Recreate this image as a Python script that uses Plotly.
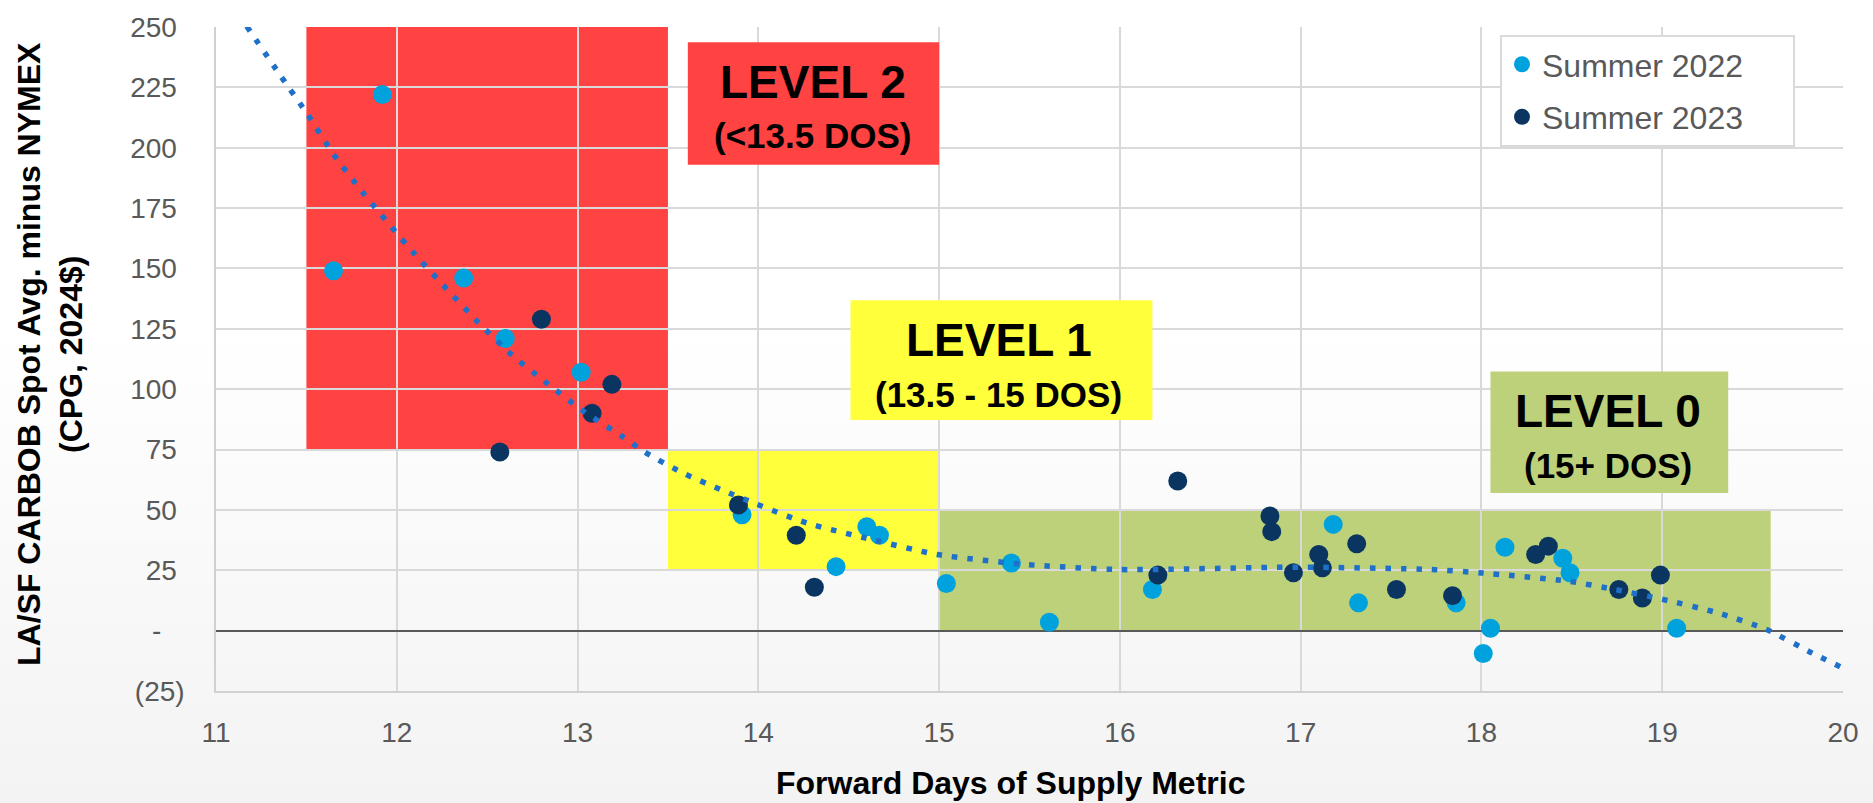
import plotly.graph_objects as go

# ---------------- data ----------------
s22_x = [11.65, 11.92, 12.37, 12.60, 13.02, 13.91, 14.43, 14.60, 14.67, 15.04, 15.40, 15.61,
         16.18, 17.18, 17.32, 17.86, 18.01, 18.05, 18.13, 18.45, 18.49, 19.08]
s22_y = [149, 222, 146, 121, 107, 48, 26.5, 43, 39.5, 19.5, 28, 3.5,
         17, 44, 11.5, 11.5, -9.5, 1, 34.5, 30, 24, 1]

s23_x = [12.57, 12.80, 13.08, 13.19, 13.89, 14.21, 14.31, 16.21, 16.32, 16.83, 16.84, 16.96,
         17.10, 17.12, 17.31, 17.53, 17.84, 18.30, 18.37, 18.76, 18.89, 18.99]
s23_y = [74, 129, 90, 102, 52, 39.5, 18, 23, 62, 47.5, 41, 24,
         31.5, 26, 36, 17, 14.5, 31.5, 35, 17, 13.5, 23]

trend_x = [11.17, 11.36, 11.51, 11.65, 11.81, 12.09, 12.27, 12.45, 12.63, 12.83, 13.03, 13.24,
           13.37, 13.59, 13.80, 13.98, 14.27, 14.63, 14.99, 15.48, 16.0, 17.0, 17.72, 18.0,
           18.48, 18.74, 19.0, 19.30, 19.57, 19.83, 20.0]
trend_y = [250.3, 229.5, 213.4, 197.3, 181.6, 156.7, 142, 127.7, 114.6, 102.5, 91, 80.8,
           74, 65, 58.2, 52.7, 44.5, 37.7, 31.5, 27.4, 25.3, 26.3, 25.3, 23.9,
           20.5, 17, 13, 7.5, 0.7, -9.3, -15.5]

# level zones (x: days of supply, y: price spread)
zone_names = ["LEVEL 2", "LEVEL 1", "LEVEL 0"]
zone_sub = ["(<13.5 DOS)", "(13.5 - 15 DOS)", "(15+ DOS)"]
zone_x0 = [11.5, 13.5, 15.0]
zone_x1 = [13.5, 15.0, 19.6]
zone_y0 = [75, 25, 0]
zone_y1 = [250, 75, 50]
zone_colors = ["#FF4242", "#FFFF3C", "#BDD17A"]

# label boxes
label_x0 = [13.61, 14.51, 18.05]
label_x1 = [15.0, 16.18, 19.365]
label_y0 = [192.9, 87.2, 57.0]
label_y1 = [243.7, 136.8, 107.3]
label_tx = [14.3, 15.33, 18.7]
label_ty_main = [227.3, 120.4, 90.9]
label_ty_sub = [204.9, 97.8, 68.2]

x_ticks = list(range(11, 21))
y_ticks = [-25, 0, 25, 50, 75, 100, 125, 150, 175, 200, 225, 250]
y_ticktext = ["(25)", "-\u00a0\u00a0\u00a0", "25\u00a0", "50\u00a0", "75\u00a0", "100\u00a0",
              "125\u00a0", "150\u00a0", "175\u00a0", "200\u00a0", "225\u00a0", "250\u00a0"]

FONT = "Liberation Sans, Arial, sans-serif"
PAD = "\u00a0" * 5

fig = go.Figure()

fig.add_trace(go.Scatter(
    x=s22_x, y=s22_y, mode="markers", name="Summer 2022" + PAD, legendgroup="a",
    marker=dict(color="#00A2DD", size=19, line=dict(width=0)),
))
fig.add_trace(go.Scatter(
    x=s23_x, y=s23_y, mode="markers", name="Summer 2023" + PAD, legendgroup="b",
    marker=dict(color="#0B3561", size=19, line=dict(width=0)),
))
fig.add_trace(go.Scatter(
    x=trend_x, y=trend_y, mode="lines", showlegend=False, hoverinfo="skip",
    line=dict(color="#1F70C8", width=5.5, dash="5.5px,10px", shape="spline", smoothing=0.6),
))

shapes = []
# subtle slide gradient background
for k in range(12):
    shapes.append(dict(type="rect", xref="paper", yref="paper", x0=-0.2, x1=1.1,
                       y0=-0.25, y1=-0.2 + 0.06 * (k + 1),
                       fillcolor="#d8e6ee", opacity=0.035, line=dict(width=0), layer="below"))
for i in range(3):
    shapes.append(dict(type="rect", xref="x", yref="y",
                       x0=zone_x0[i], x1=zone_x1[i], y0=zone_y0[i], y1=zone_y1[i],
                       fillcolor=zone_colors[i], line=dict(width=0), layer="below"))
for i in range(3):
    shapes.append(dict(type="rect", xref="x", yref="y",
                       x0=label_x0[i], x1=label_x1[i], y0=label_y0[i], y1=label_y1[i],
                       fillcolor=zone_colors[i], line=dict(width=0), layer="between"))

annotations = []
for i in range(3):
    annotations.append(dict(x=label_tx[i], y=label_ty_main[i], xref="x", yref="y",
                            text="<b>%s</b>" % zone_names[i], showarrow=False,
                            font=dict(family=FONT, size=46, color="#000000")))
    annotations.append(dict(x=label_tx[i], y=label_ty_sub[i], xref="x", yref="y",
                            text="<b>%s</b>" % zone_sub[i], showarrow=False,
                            font=dict(family=FONT, size=35, color="#000000")))

annotations.append(dict(
    x=0, y=0.5, xref="paper", yref="paper", xanchor="center", yanchor="middle",
    xshift=-166, yshift=5, textangle=-90, showarrow=False,
    text="<b>LA/SF CARBOB Spot Avg. minus NYMEX<br>(CPG, 2024$)</b>",
    font=dict(family=FONT, size=32, color="#000000")))
annotations.append(dict(
    x=(1010 - 216) / 1627, y=0, xref="paper", yref="paper", xanchor="center", yanchor="middle",
    yshift=-(783 - 691), showarrow=False,
    text="<b>Forward Days of Supply Metric</b>",
    font=dict(family=FONT, size=32, color="#000000")))

fig.update_layout(
    width=1873, height=803, autosize=False,
    margin=dict(l=216, r=30, t=21, b=112),
    paper_bgcolor="#FFFFFF", plot_bgcolor="rgba(0,0,0,0)",
    font=dict(family=FONT, color="#595959"),
    shapes=shapes, annotations=annotations,
    showlegend=True,
    legend=dict(x=(1500 - 216) / 1627, y=(691 - 29) / 670, xanchor="left", yanchor="top",
                bgcolor="#FFFFFF", bordercolor="#D9D9D9", borderwidth=2,
                font=dict(family=FONT, size=32, color="#595959"),
                tracegroupgap=8),
    xaxis=dict(range=[11, 20], tickvals=x_ticks, ticktext=[str(v) for v in x_ticks],
               showgrid=True, gridcolor="#D9D9D9", gridwidth=1.5,
               showline=True, linecolor="#D0D0D0", linewidth=1.5,
               zeroline=False, ticks="", ticklabelstandoff=16,
               tickfont=dict(family=FONT, size=28, color="#595959"), fixedrange=True),
    yaxis=dict(range=[-25, 250], tickvals=y_ticks, ticktext=y_ticktext,
               showgrid=True, gridcolor="#D9D9D9", gridwidth=1.5,
               showline=True, linecolor="#D0D0D0", linewidth=1.5,
               zeroline=True, zerolinecolor="#595959", zerolinewidth=2,
               ticks="", ticklabelstandoff=24,
               tickfont=dict(family=FONT, size=28, color="#595959"), fixedrange=True),
)

fig.write_html("out.html", config={"displayModeBar": False},
               post_script="document.body.style.margin='0';")
